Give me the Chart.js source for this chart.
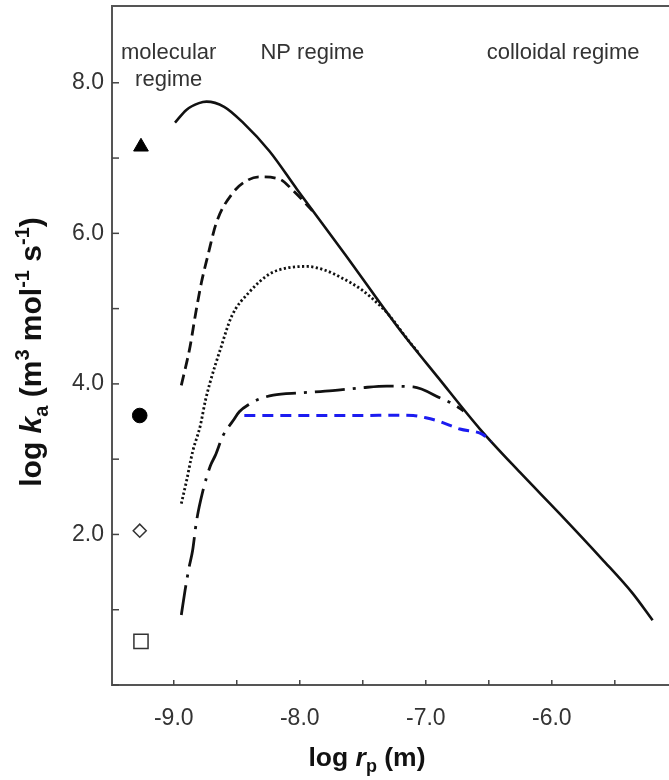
<!DOCTYPE html>
<html>
<head>
<meta charset="utf-8">
<script src="https://cdn.jsdelivr.net/npm/chart.js@4/dist/chart.umd.min.js"></script>
<style>
html,body{margin:0;padding:0;background:#fff;}
#wrap{width:669px;height:780px;position:relative;}
</style>
</head>
<body>
<div id="wrap"><canvas id="c" width="669" height="780"></canvas></div>
<script>
// ---- data ----
const solidX = [-8.99, -8.9, -8.8, -8.74, -8.6, -8.45, -8.24, -8.02, -7.64, -7.22, -6.9, -6.57, -6.25, -5.94, -5.6, -5.36, -5.2];
const solidY = [7.47, 7.64, 7.73, 7.75, 7.68, 7.47, 7.09, 6.58, 5.72, 4.75, 4.08, 3.40, 2.82, 2.28, 1.67, 1.22, 0.86];

const dashX = [-8.94, -8.87, -8.83, -8.78, -8.73, -8.66, -8.53, -8.42, -8.32, -8.16, -8.06, -7.9];
const dashY = [3.98, 4.50, 4.90, 5.35, 5.70, 6.15, 6.54, 6.70, 6.75, 6.72, 6.58, 6.30];

const dotX = [-8.94, -8.90, -8.85, -8.79, -8.75, -8.71, -8.63, -8.54, -8.40, -8.24, -8.10, -7.94, -7.80, -7.68, -7.50, -7.37, -7.30, -7.13, -7.05];
const dotY = [2.41, 2.70, 3.10, 3.44, 3.77, 4.03, 4.46, 4.90, 5.22, 5.46, 5.54, 5.56, 5.51, 5.42, 5.24, 5.05, 4.93, 4.56, 4.40];

const dashDotX = [-8.94, -8.91, -8.88, -8.85, -8.82, -8.77, -8.71, -8.67, -8.61, -8.53, -8.48, -8.40, -8.32, -8.21, -8.0, -7.74, -7.5, -7.31, -7.10, -6.87, -6.79, -6.70];
const dashDotY = [0.93, 1.26, 1.55, 1.79, 2.17, 2.57, 2.91, 3.05, 3.31, 3.51, 3.63, 3.73, 3.80, 3.85, 3.88, 3.91, 3.95, 3.97, 3.96, 3.80, 3.74, 3.64];

const blueX = [-8.44, -8.0, -7.5, -7.25, -7.10, -7.0, -6.89, -6.73, -6.55, -6.48];
const blueY = [3.58, 3.58, 3.58, 3.585, 3.58, 3.55, 3.50, 3.40, 3.33, 3.23];

const markerX = [-9.26, -9.27, -9.27, -9.26];
const markerY = [7.15, 3.58, 2.05, 0.58];

const xTickValues = [-9.0, -8.5, -8.0, -7.5, -7.0, -6.5, -6.0, -5.5];
const xTickLabels = ['-9.0', '', '-8.0', '', '-7.0', '', '-6.0', ''];
const yTickValues = [0, 1, 2, 3, 4, 5, 6, 7, 8];
const yTickLabels = ['', '', '2.0', '', '4.0', '', '6.0', '', '8.0'];

const regimeLabels = ['molecular', 'regime', 'NP regime', 'colloidal regime'];
const regimeLabelX = [-9.04, -9.04, -7.90, -5.91];
const regimeLabelY = [8.40, 8.04, 8.40, 8.40];

const xTitleParts = ['log ', 'r', 'p', ' (m)'];
const yTitleParts = ['log ', 'k', 'a', ' (m', '3', ' mol', '-1', ' s', '-1', ')'];

// ---- helpers ----
const FAM = '"Liberation Sans", Arial, Helvetica, sans-serif';
const pts = (xs, ys) => xs.map((x, i) => ({x: x, y: ys[i]}));

function drawRich(ctx, parts, cx, by) {
  let w = 0;
  parts.forEach(p => { ctx.font = p.font; p.w = ctx.measureText(p.t).width; w += p.w; });
  let x = cx - w / 2;
  parts.forEach(p => { ctx.font = p.font; ctx.fillText(p.t, x, by + (p.dy || 0)); x += p.w; });
}

const decor = {
  id: 'decor',
  afterDraw(chart) {
    const ctx = chart.ctx, a = chart.chartArea;
    const xs = chart.scales.x, ys = chart.scales.y;
    ctx.save();
    // top frame line
    ctx.strokeStyle = '#555'; ctx.lineWidth = 2;
    ctx.beginPath(); ctx.moveTo(a.left - 1, a.top); ctx.lineTo(a.right, a.top); ctx.stroke();
    // inward tick marks
    ctx.lineWidth = 1.5; ctx.strokeStyle = '#444';
    yTickValues.forEach(v => {
      const p = ys.getPixelForValue(v);
      ctx.beginPath(); ctx.moveTo(a.left, p); ctx.lineTo(a.left + 7, p); ctx.stroke();
    });
    xTickValues.forEach(v => {
      const p = xs.getPixelForValue(v);
      ctx.beginPath(); ctx.moveTo(p, a.bottom); ctx.lineTo(p, a.bottom - 5); ctx.stroke();
    });
    // regime annotations
    ctx.fillStyle = '#333';
    ctx.font = '22px ' + FAM;
    ctx.textAlign = 'center'; ctx.textBaseline = 'middle';
    regimeLabels.forEach((t, i) => {
      ctx.fillText(t, xs.getPixelForValue(regimeLabelX[i]), ys.getPixelForValue(regimeLabelY[i]));
    });
    // axis titles
    ctx.fillStyle = '#111';
    ctx.textAlign = 'left'; ctx.textBaseline = 'alphabetic';
    const B = 'bold 26.5px ' + FAM, BI = 'italic bold 26.5px ' + FAM, S = 'bold 18px ' + FAM;
    drawRich(ctx, [
      {t: xTitleParts[0], font: B}, {t: xTitleParts[1], font: BI},
      {t: xTitleParts[2], font: S, dy: 6}, {t: xTitleParts[3], font: B}
    ], 367, 766);
    const YB = 'bold 30px ' + FAM, YBI = 'italic bold 30px ' + FAM, YS = 'bold 20px ' + FAM;
    ctx.translate(41, 352);
    ctx.rotate(-Math.PI / 2);
    drawRich(ctx, [
      {t: yTitleParts[0], font: YB}, {t: yTitleParts[1], font: YBI}, {t: yTitleParts[2], font: YS, dy: 7},
      {t: yTitleParts[3], font: YB}, {t: yTitleParts[4], font: YS, dy: -12}, {t: yTitleParts[5], font: YB},
      {t: yTitleParts[6], font: YS, dy: -12}, {t: yTitleParts[7], font: YB}, {t: yTitleParts[8], font: YS, dy: -12},
      {t: yTitleParts[9], font: YB}
    ], 0, 0);
    ctx.restore();
  }
};

const lineDs = (data, color, width, dash) => ({
  type: 'scatter', data: data, showLine: true, borderColor: color, backgroundColor: color,
  borderWidth: width, borderDash: dash, borderCapStyle: 'butt', pointRadius: 0, pointHoverRadius: 0,
  cubicInterpolationMode: 'monotone', fill: false
});

const noPad = s => { s.paddingLeft = 0; s.paddingRight = 0; s.paddingTop = 0; s.paddingBottom = 0; };

new Chart(document.getElementById('c'), {
  type: 'scatter',
  data: {
    datasets: [
      lineDs(pts(blueX, blueY), '#1c1cf0', 3, [11, 7]),
      lineDs(pts(dashDotX, dashDotY), '#111', 2.8, [30, 8, 3, 8]),
      lineDs(pts(dotX, dotY), '#111', 2.8, [2.2, 2.4]),
      lineDs(pts(dashX, dashY), '#111', 2.8, [11, 6]),
      lineDs(pts(solidX, solidY), '#111', 2.6, []),
      {type: 'scatter', data: [{x: markerX[0], y: markerY[0]}], pointStyle: 'triangle', pointRadius: 8.5, backgroundColor: '#000', borderColor: '#000', borderWidth: 1},
      {type: 'scatter', data: [{x: markerX[1], y: markerY[1]}], pointStyle: 'circle', pointRadius: 7.3, backgroundColor: '#000', borderColor: '#000', borderWidth: 1},
      {type: 'scatter', data: [{x: markerX[2], y: markerY[2]}], pointStyle: 'rectRot', pointRadius: 6.5, backgroundColor: '#fff', borderColor: '#333', borderWidth: 1.5},
      {type: 'scatter', data: [{x: markerX[3], y: markerY[3]}], pointStyle: 'rect', pointRadius: 10, backgroundColor: '#fff', borderColor: '#333', borderWidth: 1.5}
    ]
  },
  options: {
    responsive: false,
    animation: false,
    devicePixelRatio: 1,
    layout: {autoPadding: false, padding: {top: 6, right: 0, left: 0, bottom: 0}},
    plugins: {legend: {display: false}, tooltip: {enabled: false}},
    scales: {
      x: {
        type: 'linear', position: 'bottom', min: -9.49, max: -5.07,
        afterFit: s => { s.height = 95; noPad(s); },
        afterBuildTicks: s => { s.ticks = xTickValues.map(v => ({value: v})); },
        grid: {display: false, drawTicks: false},
        border: {display: true, color: '#555', width: 2},
        ticks: {
          autoSkip: false, maxRotation: 0, padding: 20, color: '#333',
          font: {family: FAM, size: 23},
          callback: (v) => { const i = xTickValues.findIndex(t => Math.abs(t - v) < 1e-6); return i >= 0 ? xTickLabels[i] : ''; }
        }
      },
      y: {
        type: 'linear', position: 'left', min: 0, max: 9.02,
        afterFit: s => { s.width = 112; noPad(s); },
        afterBuildTicks: s => { s.ticks = yTickValues.map(v => ({value: v})); },
        grid: {display: false, drawTicks: false},
        border: {display: true, color: '#555', width: 2},
        ticks: {
          autoSkip: false, padding: 8, color: '#333',
          font: {family: FAM, size: 23},
          callback: (v) => { const i = yTickValues.findIndex(t => Math.abs(t - v) < 1e-6); return i >= 0 ? yTickLabels[i] : ''; }
        }
      }
    }
  },
  plugins: [decor]
});
</script>
</body>
</html>
